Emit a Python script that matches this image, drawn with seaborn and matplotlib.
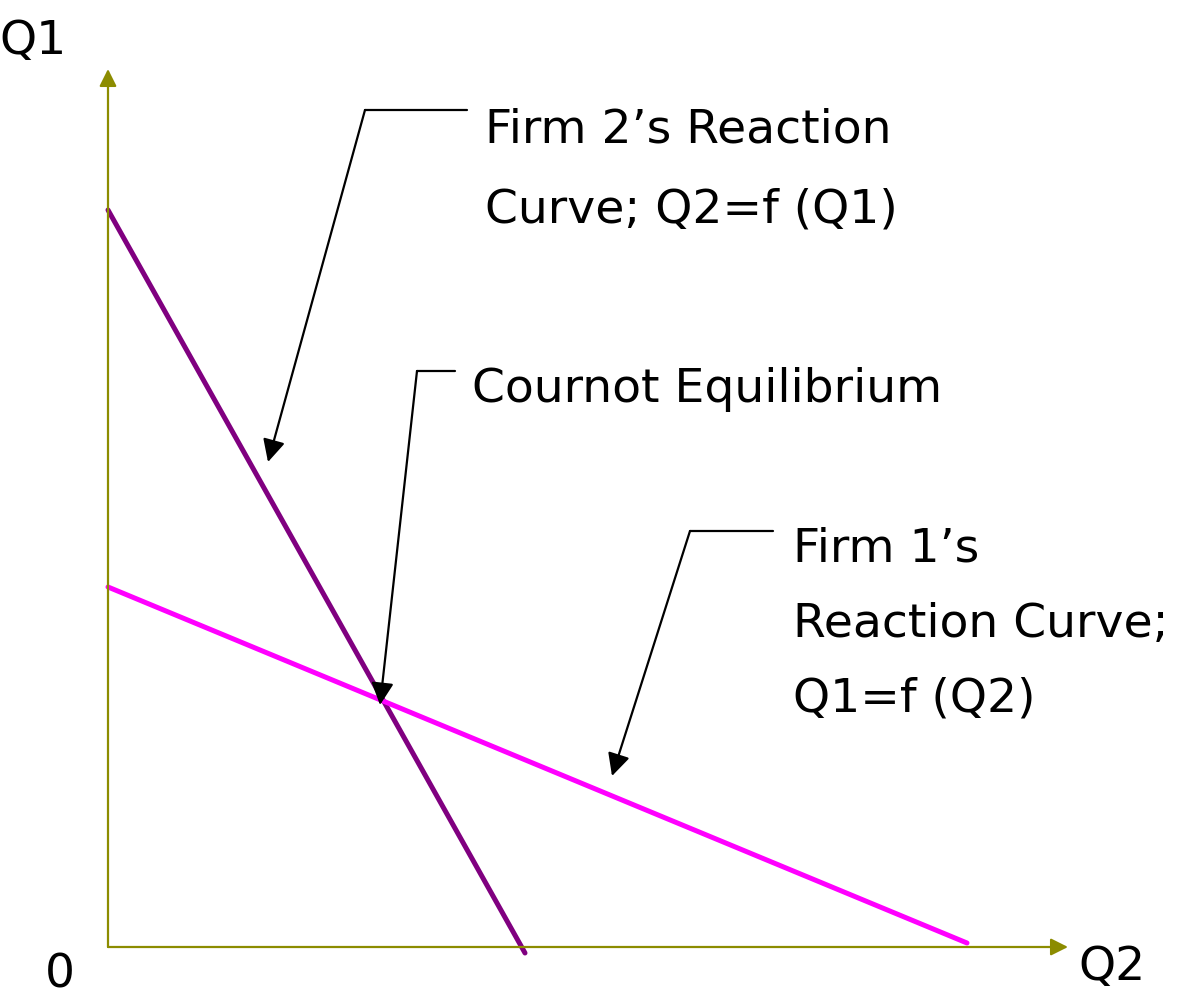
import matplotlib
matplotlib.use("Agg")
import matplotlib.pyplot as plt
import seaborn as sns
import pandas as pd

# Reaction curves (Q2 on x, Q1 on y)
firm2_q2 = [0.0, 41.7]
firm2_q1 = [73.7, -0.6]
firm1_q2 = [0.0, 85.9]
firm1_q1 = [36.0, 0.4]

# Label lines and where they sit
firm2_lines = ["Firm 2\u2019s Reaction", "Curve; Q2=f (Q1)"]
cournot_lines = ["Cournot Equilibrium"]
firm1_lines = ["Firm 1\u2019s", "Reaction Curve;", "Q1=f (Q2)"]

sns.set_style("white")
plt.rcParams["font.family"] = ["DejaVu Sans"]
plt.rcParams["text.color"] = "black"

OLIVE = "#8c8c00"
PURPLE = "#800080"
MAGENTA = "#ff00ff"
FS = 34

fig = plt.figure(figsize=(11.8, 9.98), dpi=100)
ax = fig.add_axes([0, 0, 1, 1])
ax.set_xlim(-10.8, 107.2)
ax.set_ylim(-5.1, 94.7)
ax.axis("off")

df = pd.concat([
    pd.DataFrame({"Q2": firm2_q2, "Q1": firm2_q1, "curve": "firm2"}),
    pd.DataFrame({"Q2": firm1_q2, "Q1": firm1_q1, "curve": "firm1"}),
])
sns.lineplot(data=df, x="Q2", y="Q1", hue="curve", palette={"firm2": PURPLE, "firm1": MAGENTA},
             linewidth=3.6, legend=False, ax=ax, sort=False, estimator=None)

# axes with arrowheads
axis_arrow = dict(arrowstyle="-|>", color=OLIVE, lw=1.6, mutation_scale=26, shrinkA=0, shrinkB=0)
ax.annotate("", xy=(0, 87.8), xytext=(0, 0), arrowprops=axis_arrow)
ax.annotate("", xy=(96.0, 0), xytext=(0, 0), arrowprops=axis_arrow)

ax.text(-7.5, 90.5, "Q1", fontsize=FS, ha="center", va="center")
ax.text(-4.8, -2.8, "0", fontsize=FS, ha="center", va="center")
ax.text(100.4, -2.0, "Q2", fontsize=FS, ha="center", va="center")

# callouts: horizontal leader then arrow to the target
pointer = dict(arrowstyle="-|>", color="black", lw=1.6, mutation_scale=34, shrinkA=0, shrinkB=0)
callouts = [
    ((35.9, 83.7), (25.7, 83.7), (16.0, 48.5)),
    ((34.7, 57.6), (30.9, 57.6), (27.2, 24.2)),
    ((66.5, 41.6), (58.2, 41.6), (50.4, 17.1)),
]
for start, corner, tip in callouts:
    ax.plot([start[0], corner[0]], [start[1], corner[1]], color="black", lw=1.6)
    ax.annotate("", xy=tip, xytext=corner, arrowprops=pointer)

for i, line in enumerate(firm2_lines):
    ax.text(37.7, 81.7 - 8.0 * i, line, fontsize=FS, ha="left", va="center")
for i, line in enumerate(cournot_lines):
    ax.text(36.4, 55.8 - 8.0 * i, line, fontsize=FS, ha="left", va="center")
for i, line in enumerate(firm1_lines):
    ax.text(68.5, 39.8 - 7.5 * i, line, fontsize=FS, ha="left", va="center")

fig.savefig("out.png", dpi=100)
